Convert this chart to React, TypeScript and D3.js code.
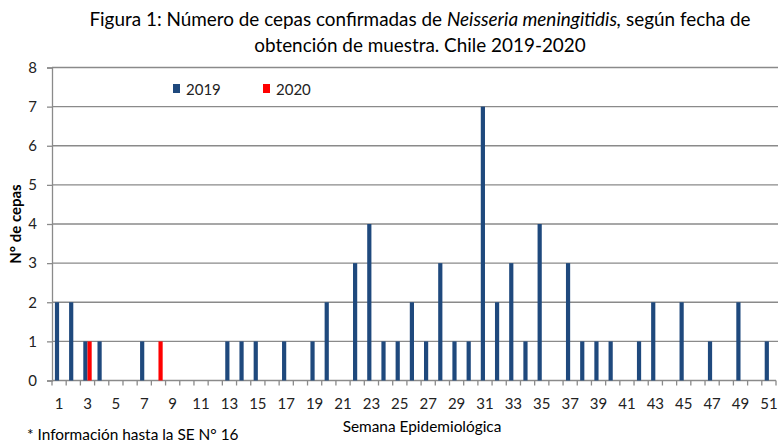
import { useEffect, useRef } from 'react'
import * as d3 from 'd3'

const weeks = d3.range(1, 52).map(String)
const series = ['2019', '2020']
const colors = ['#1F497D', '#FF0000']

// cepas por semana epidemiológica (semanas 1..51)
const values2019 = [
  2, 2, 1, 1, 0, 0, 1, 0, 0, 0, 0, 0, 1, 1, 1, 0, 1, 0, 1, 2,
  0, 3, 4, 1, 1, 2, 1, 3, 1, 1, 7, 2, 3, 1, 4, 0, 3, 1, 1, 1,
  0, 1, 2, 0, 2, 0, 1, 0, 2, 0, 1,
]
const values2020 = [
  0, 0, 1, 0, 0, 0, 0, 1, 0, 0, 0, 0, 0, 0, 0, 0, 0, 0, 0, 0,
  0, 0, 0, 0, 0, 0, 0, 0, 0, 0, 0, 0, 0, 0, 0, 0, 0, 0, 0, 0,
  0, 0, 0, 0, 0, 0, 0, 0, 0, 0, 0,
]
const yTicks = [0, 1, 2, 3, 4, 5, 6, 7, 8]

const FONT = 'Lato, "Open Sans", sans-serif'

export default function App() {
  const svgRef = useRef<SVGSVGElement>(null)

  useEffect(() => {
    if (!svgRef.current) return
    const svg = d3.select(svgRef.current)
    svg.selectAll('*').remove()

    const width = 778
    const height = 442
    const margin = { top: 67.5, right: 2, bottom: 61.5, left: 52 }

    const x = d3.scaleBand<string>()
      .domain(weeks)
      .range([margin.left, width - margin.right])
      .paddingInner(0)
      .paddingOuter(0)

    const y = d3.scaleLinear()
      .domain([0, 8])
      .range([height - margin.bottom, margin.top])

    // two bars per week, centred on the band
    const groupW = 8.4
    const x1 = d3.scaleBand<string>()
      .domain(series)
      .range([-groupW / 2, groupW / 2])

    svg.attr('width', width).attr('height', height)
      .style('font-family', FONT)

    // gridlines
    svg.append('g')
      .selectAll('line')
      .data(yTicks.slice(1))
      .enter().append('line')
      .attr('x1', margin.left)
      .attr('x2', width)
      .attr('y1', d => y(d))
      .attr('y2', d => y(d))
      .style('stroke', '#8a8a8a')
      .style('stroke-width', 1.3)

    // y axis
    const yAxis = svg.append('g')
      .attr('transform', `translate(${margin.left},0)`)
      .call(d3.axisLeft(y).tickValues(yTicks).tickSize(5).tickPadding(10).tickFormat(d3.format('d')))
    yAxis.select('.domain').style('stroke', '#8a8a8a').style('stroke-width', 1.3)
    yAxis.selectAll('.tick line').style('stroke', '#8a8a8a').style('stroke-width', 1.3)
    yAxis.selectAll('.tick text')
      .style('font-family', FONT)
      .style('font-size', '15px')
      .style('fill', '#222')

    // x axis: ticks at week boundaries
    const xg = svg.append('g')
      .attr('transform', `translate(0,${y(0)})`)
    xg.append('line')
      .attr('x1', margin.left)
      .attr('x2', width - margin.right)
      .style('stroke', '#8a8a8a')
      .style('stroke-width', 1.3)
    xg.selectAll('line.tk')
      .data(d3.range(weeks.length + 1))
      .enter().append('line')
      .attr('class', 'tk')
      .attr('x1', i => margin.left + i * x.bandwidth())
      .attr('x2', i => margin.left + i * x.bandwidth())
      .attr('y1', 0)
      .attr('y2', 5)
      .style('stroke', '#8a8a8a')
      .style('stroke-width', 1.3)
    xg.selectAll('text')
      .data(weeks.filter((w, i) => i % 2 === 0))
      .enter().append('text')
      .attr('x', d => (x(d) as number) + x.bandwidth() / 2)
      .attr('y', 28)
      .attr('text-anchor', 'middle')
      .style('font-size', '15px')
      .style('fill', '#222')
      .text(d => d)

    // bars
    const rows = weeks.map((w, i) => ({ week: w, vals: [values2019[i], values2020[i]] }))
    const grp = svg.append('g')
      .selectAll('g')
      .data(rows)
      .enter().append('g')
      .attr('transform', d => `translate(${(x(d.week) as number) + x.bandwidth() / 2},0)`)
    grp.selectAll('rect')
      .data(d => d.vals.map((v, j) => ({ key: series[j], v, color: colors[j] })))
      .enter().append('rect')
      .filter(d => d.v > 0)
      .attr('x', d => x1(d.key) as number)
      .attr('width', x1.bandwidth())
      .attr('y', d => y(d.v))
      .attr('height', d => y(0) - y(d.v))
      .style('fill', d => d.color)

    // title
    const title = svg.append('text')
      .attr('x', 420)
      .attr('y', 26)
      .attr('text-anchor', 'middle')
      .style('font-size', '18.9px')
      .style('fill', '#000')
    title.append('tspan').text('Figura 1: Número de cepas confirmadas de ')
    title.append('tspan').style('font-style', 'italic').text('Neisseria meningitidis,')
    title.append('tspan').text(' según fecha de')
    svg.append('text')
      .attr('x', 420)
      .attr('y', 52)
      .attr('text-anchor', 'middle')
      .style('font-size', '18.9px')
      .style('fill', '#000')
      .text('obtención de muestra. Chile 2019-2020')

    // legend
    const legend = svg.append('g')
      .selectAll('g')
      .data(series)
      .enter().append('g')
      .attr('transform', (d, i) => `translate(${173 + i * 90},0)`)
    legend.append('rect')
      .attr('x', 0)
      .attr('y', 84)
      .attr('width', 7)
      .attr('height', 9)
      .style('fill', (d, i) => colors[i])
    legend.append('text')
      .attr('x', 13)
      .attr('y', 95)
      .style('font-size', '15px')
      .style('fill', '#222')
      .text(d => d)

    // axis titles
    svg.append('text')
      .attr('transform', `translate(21,${(y(0) + y(8)) / 2}) rotate(-90)`)
      .attr('text-anchor', 'middle')
      .style('font-size', '15px')
      .style('font-weight', 'bold')
      .style('fill', '#000')
      .text('N° de cepas')
    svg.append('text')
      .attr('x', 422)
      .attr('y', 432)
      .attr('text-anchor', 'middle')
      .style('font-size', '15.4px')
      .style('fill', '#000')
      .text('Semana Epidemiológica')

    // footnote
    svg.append('text')
      .attr('x', 27)
      .attr('y', 440)
      .style('font-size', '15.4px')
      .style('fill', '#000')
      .text('* Información hasta la SE N° 16')
  }, [])

  return (
    <div style={{ position: 'fixed', left: 0, top: 0, width: 778, height: 442, overflow: 'hidden' }}>
      <svg ref={svgRef} style={{ display: 'block', background: '#fff' }}></svg>
    </div>
  )
}
